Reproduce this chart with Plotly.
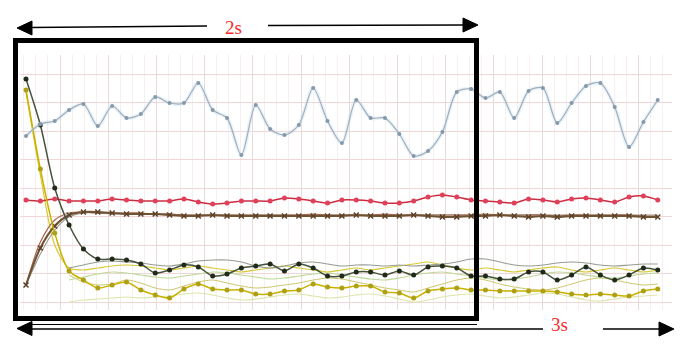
import plotly.graph_objects as go

# Sample index (45 samples across the recording)
samples = list(range(45))

# Upper signal (blue)
blue = [174, 186, 189, 200, 206, 184, 204, 192, 196, 213, 207, 207, 227, 200, 192,
        155, 205, 181, 175, 185, 222, 189, 167, 210, 192, 192, 176, 154, 159, 178,
        218, 221, 212, 218, 192, 219, 222, 187, 207, 224, 227, 203, 163, 188, 210]

# Red reference level
red = [110, 109, 111, 109, 109, 109, 111, 110, 109, 109, 109, 111, 108, 106, 107,
       109, 109, 109, 112, 111, 109, 107, 110, 110, 109, 107, 107, 109, 113, 115,
       113, 110, 109, 108, 107, 111, 110, 108, 111, 112, 110, 108, 113, 114, 110]

# Rising brown response and its companions
brown = [25, 62, 84, 95, 98, 98, 97, 96, 96, 96, 95, 94, 94, 95, 94,
         94, 94, 94, 94, 94, 94, 94, 94, 95, 94, 94, 94, 95, 94, 93,
         93, 94, 94, 95, 94, 93, 94, 93, 94, 94, 94, 94, 94, 93, 93]
brown2 = [25, 68, 90, 97, 98, 97, 97, 97, 97, 96, 96, 95, 95, 95, 95,
          95, 95, 95, 95, 95, 96, 95, 95, 95, 95, 96, 95, 95, 95, 95,
          95, 95, 96, 95, 95, 95, 95, 94, 95, 95, 95, 95, 95, 94, 94]
gray_rise = [25, 56, 80, 93, 97, 97, 96, 96, 96, 96, 96, 95, 95, 95, 95,
             95, 95, 95, 95, 95, 95, 95, 95, 95, 95, 95, 95, 95, 95, 95,
             95, 95, 95, 95, 95, 95, 95, 95, 95, 95, 95, 95, 95, 95, 95]

# Decaying dark and yellow responses
dark = [231, 185, 122, 85, 61, 51, 51, 50, 46, 37, 40, 45, 43, 34, 36,
        42, 44, 46, 39, 46, 42, 34, 34, 38, 38, 35, 39, 35, 43, 44,
        42, 34, 34, 31, 31, 38, 38, 30, 35, 43, 35, 30, 35, 42, 40]
yellow = [220, 141, 77, 39, 30, 22, 25, 28, 20, 15, 12, 21, 26, 21, 20,
          20, 16, 16, 19, 20, 26, 23, 22, 24, 24, 18, 17, 12, 19, 21,
          22, 20, 20, 19, 19, 19, 19, 18, 16, 15, 16, 15, 14, 19, 21]
yellow_thin = [218, 135, 65, 42, 40, 42, 44, 45, 44, 42, 40, 42, 44, 42, 40,
               38, 40, 42, 44, 42, 40, 38, 40, 42, 40, 42, 44, 46, 48, 45,
               42, 40, 42, 40, 38, 40, 42, 43, 40, 38, 40, 42, 40, 38, 40]

# Thin unmarked traces (start at sample 3)
late_samples = samples[3:]
gray_thin = [42, 45, 48, 49, 48, 47, 45, 44, 46, 49, 50, 50, 48, 44, 42,
             44, 47, 48, 46, 44, 45, 45, 44, 45, 44, 45, 46, 48, 51, 51,
             48, 45, 44, 45, 47, 48, 47, 45, 44, 45, 46, 46]
green_thin = [30, 33, 36, 38, 37, 35, 33, 32, 34, 36, 38, 37, 35, 33, 31,
              32, 34, 36, 37, 35, 33, 31, 30, 32, 35, 37, 38, 36, 34, 32,
              30, 31, 33, 36, 38, 37, 35, 33, 32, 34, 36, 37]
olive_thin = [35, 28, 25, 26, 30, 27, 22, 20, 24, 28, 30, 27, 24, 22, 23,
              25, 27, 30, 32, 31, 28, 25, 22, 20, 18, 22, 26, 30, 32, 30,
              26, 23, 21, 20, 22, 26, 30, 32, 30, 27, 25, 26]
pale_thin = [8, 10, 11, 12, 13, 12, 13, 14, 16, 17, 15, 12, 10, 11, 13,
             15, 16, 14, 12, 13, 15, 16, 14, 11, 8, 10, 13, 15, 16, 14,
             12, 13, 15, 17, 16, 13, 10, 9, 11, 13, 14, 15]

W, H = 680, 346


def px(x):
    return x / W


def py(y):
    return 1 - y / H


fig = go.Figure()


def thin(x, y, color, width=1.1):
    fig.add_trace(go.Scatter(x=x, y=y, mode="lines",
                             line=dict(color=color, width=width, shape="spline", smoothing=0.8),
                             hoverinfo="skip", showlegend=False))


def marked(x, y, lcolor, mcolor, symbol="circle", size=5, width=1.5):
    fig.add_trace(go.Scatter(x=x, y=y, mode="lines+markers",
                             line=dict(color=lcolor, width=width, shape="spline", smoothing=0.8),
                             marker=dict(color=mcolor, size=size, symbol=symbol,
                                         line=dict(width=0)),
                             showlegend=False))


# faint unmarked traces underneath
thin(late_samples, pale_thin, "#dde6ae", 1.2)
thin(late_samples, olive_thin, "#cdc66c", 1.0)
thin(late_samples, green_thin, "#bcd996", 1.1)
thin(samples, yellow_thin, "#d8c834", 1.2)
thin(late_samples, gray_thin, "#959b92", 1.1)

# rising group
thin(samples, gray_rise, "#9a9a90", 1.1)
thin(samples, brown2, "#a8644a", 1.2)
marked(samples, brown, "#6e5232", "#5a4028", symbol="x-thin", size=5, width=2)
fig.data[-1].marker.line = dict(width=1.5, color="#5a4028")

# red level
marked(samples, red, "#cc2c40", "#e0405a", size=5, width=1.5)

# decaying group
marked(samples, yellow, "#c9b100", "#aea014", size=5, width=1.5)
marked(samples, dark, "#45523c", "#1f2a18", size=5, width=1.5)

# blue signal with a soft halo
fig.add_trace(go.Scatter(x=samples, y=blue, mode="lines",
                         line=dict(color="rgba(190,222,242,0.35)", width=4, shape="spline", smoothing=0.8),
                         hoverinfo="skip", showlegend=False))
marked(samples, blue, "#a2adb8", "#8599aa", size=4, width=1.2)

shapes = []
# frame around the first window
shapes.append(dict(type="rect", xref="paper", yref="paper",
                   x0=px(15.5), x1=px(476.5), y0=py(318.5), y1=py(40.5),
                   line=dict(color="black", width=5)))


def seg(x0, y0, x1, y1, w=1.5):
    shapes.append(dict(type="line", xref="paper", yref="paper",
                       x0=px(x0), y0=py(y0), x1=px(x1), y1=py(y1),
                       line=dict(color="black", width=w)))


def head(tipx, tipy, direction, length=15, half=7):
    bx = tipx - direction * length
    path = (f"M {px(tipx)},{py(tipy)} L {px(bx)},{py(tipy - half)} "
            f"L {px(bx)},{py(tipy + half)} Z")
    shapes.append(dict(type="path", xref="paper", yref="paper", path=path,
                       fillcolor="black", line=dict(color="black", width=1)))


# top span arrow (2 s)
seg(30, 27.5, 207, 26)
seg(268, 25.5, 466, 25)
head(17, 28, -1)
head(478, 25, 1)

# bottom span arrow (3 s)
seg(30, 324.5, 477, 324.5, 1)
seg(30, 329, 543, 329)
seg(603, 329, 662, 329)
head(17, 328.5, -1)
head(674, 329, 1)

fig.update_layout(
    width=W, height=H,
    margin=dict(l=0, r=0, t=0, b=0),
    paper_bgcolor="white", plot_bgcolor="white",
    shapes=shapes,
    annotations=[
        dict(text="2s", x=px(233), y=py(15), xref="paper", yref="paper",
             showarrow=False, font=dict(family="Liberation Serif", size=19, color="#f52a2a")),
        dict(text="3s", x=px(570), y=py(337), xref="paper", yref="paper",
             showarrow=False, font=dict(family="Liberation Serif", size=19, color="#f52a2a")),
    ],
    xaxis=dict(domain=[px(20), px(672)], range=[-0.418, 44.99],
               tickmode="linear", tick0=2.368, dtick=3.357,
               showgrid=True, gridcolor="#e7dada", gridwidth=1,
               minor=dict(tickmode="linear", tick0=2.368, dtick=3.357 / 4,
                          showgrid=True, gridcolor="#f5efef", gridwidth=1),
               showticklabels=False, zeroline=False, showline=False, ticks=""),
    yaxis=dict(domain=[py(310), py(55)], range=[0, 255],
               tickmode="linear", tick0=8, dtick=28.5,
               showgrid=True, gridcolor="#f0d6d6", gridwidth=1,
               showticklabels=False, zeroline=False, showline=False, ticks=""),
)

fig.write_html("out.html")
